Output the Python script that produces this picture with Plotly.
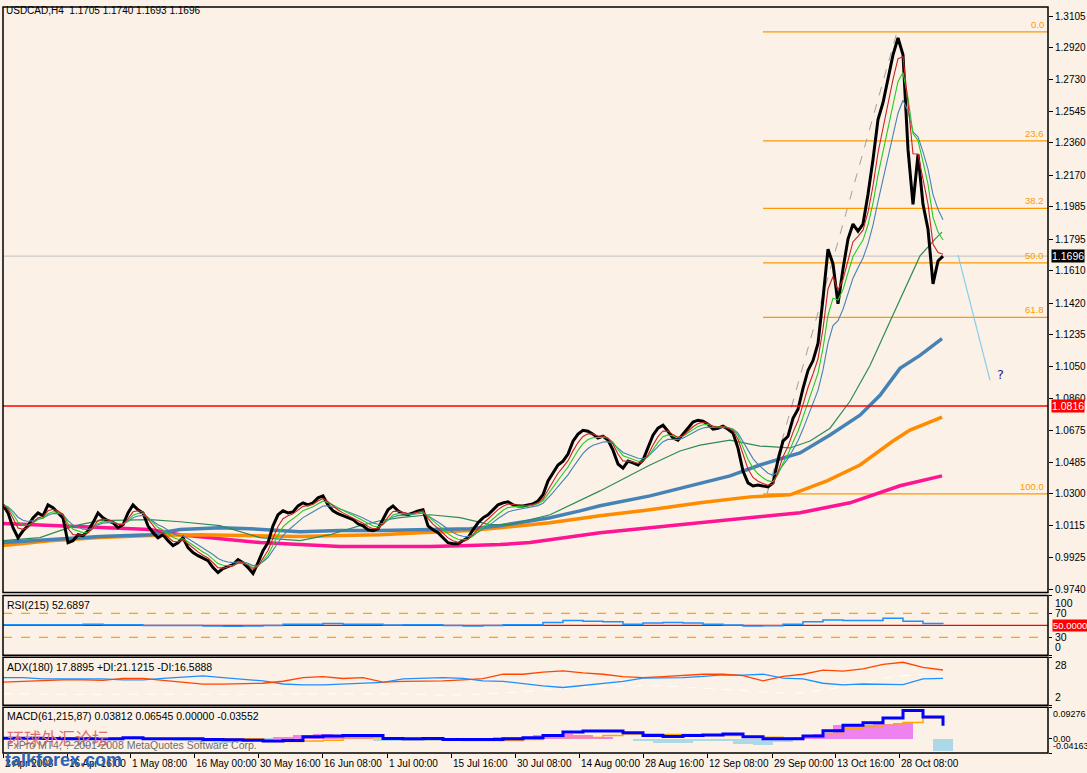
import plotly.graph_objects as go
import pandas as pd

W, H = 1087, 773
BG = "#FBF1E6"

# ---------------- data ----------------
STEP = 5  # bars between close samples
close = [
    1.0236, 1.0189, 1.0102, 1.0043, 1.0084, 1.0113, 1.0160, 1.0189, 1.0172, 1.0236,
    1.0219, 1.0189, 1.0160, 1.0014, 1.0026, 1.0061, 1.0055, 1.0084, 1.0131, 1.0189,
    1.0160, 1.0143, 1.0131, 1.0102, 1.0119, 1.0189, 1.0236, 1.0207, 1.0189, 1.0113,
    1.0073, 1.0043, 1.0061, 1.0026, 0.9997, 1.0014, 1.0043, 0.9985, 0.9956, 0.9938,
    0.9921, 0.9909, 0.9868, 0.9839, 0.9862, 0.9874, 0.9886, 0.9915, 0.9897, 0.9868,
    0.9833, 0.9897, 0.9967, 1.0014, 1.0113, 1.0178, 1.0201, 1.0189, 1.0195, 1.0230,
    1.0248, 1.0236, 1.0248, 1.0277, 1.0289, 1.0236, 1.0201, 1.0184, 1.0172, 1.0160,
    1.0149, 1.0125, 1.0113, 1.0090, 1.0084, 1.0096, 1.0149, 1.0207, 1.0230, 1.0201,
    1.0184, 1.0178, 1.0189, 1.0201, 1.0207, 1.0113, 1.0090, 1.0073, 1.0043, 1.0014,
    1.0008, 1.0008, 1.0026, 1.0043, 1.0090, 1.0131, 1.0160, 1.0178, 1.0207, 1.0236,
    1.0248, 1.0254, 1.0236, 1.0230, 1.0230, 1.0236, 1.0242, 1.0259, 1.0295, 1.0376,
    1.0423, 1.0470, 1.0493, 1.0534, 1.0610, 1.0651, 1.0674, 1.0668, 1.0651, 1.0628,
    1.0639, 1.0616, 1.0557, 1.0476, 1.0452, 1.0493, 1.0482, 1.0470, 1.0499, 1.0569,
    1.0645, 1.0686, 1.0703, 1.0668, 1.0628, 1.0616, 1.0651, 1.0692, 1.0722, 1.0733,
    1.0727, 1.0710, 1.0680, 1.0686, 1.0698, 1.0680, 1.0657, 1.0569, 1.0435, 1.0365,
    1.0347, 1.0353, 1.0347, 1.0341, 1.0365, 1.0499, 1.0610, 1.0639, 1.0744, 1.0797,
    1.0920, 1.1025, 1.1083, 1.1183, 1.1446, 1.1737, 1.1650, 1.1416, 1.1621, 1.1796,
    1.1884, 1.1843, 1.1884, 1.2059, 1.2263, 1.2497, 1.2596, 1.2731, 1.2877, 1.2976,
    1.2877, 1.2322, 1.2000, 1.2293, 1.2000, 1.1854, 1.1533, 1.1667, 1.1696,
]
bars = [i * STEP for i in range(len(close))]

# long moving averages (bar index, price)
ma_mag_bar = [0, 57, 97, 147, 177, 197, 227, 257, 297, 337, 397, 427, 467, 497, 527, 547,
              597, 647, 697, 747, 787, 797, 847, 897, 939]
ma_mag = [1.0126, 1.0114, 1.0102, 1.0091, 1.0061, 1.0050, 1.0032, 1.0015, 1.0003, 0.9991,
          0.9991, 0.9991, 0.9997, 1.0003, 1.0015, 1.0032, 1.0073, 1.0102, 1.0131, 1.0161,
          1.0184, 1.0190, 1.0248, 1.0348, 1.0406]
ma_org_bar = [0, 47, 97, 147, 197, 257, 297, 337, 377, 417, 467, 497, 547, 597, 647, 697,
              747, 787, 797, 824, 857, 890, 907, 939]
ma_org = [0.9997, 1.0026, 1.0044, 1.0056, 1.0061, 1.0056, 1.0050, 1.0056, 1.0061, 1.0073,
          1.0085, 1.0102, 1.0131, 1.0172, 1.0207, 1.0248, 1.0283, 1.0295, 1.0318, 1.0377,
          1.0470, 1.0611, 1.0675, 1.0751]
ma_blu_bar = [0, 47, 97, 147, 177, 217, 247, 297, 337, 377, 427, 467, 497, 547, 577, 597,
              647, 697, 727, 757, 797, 827, 857, 877, 897, 917, 939]
ma_blu = [1.0015, 1.0032, 1.0050, 1.0061, 1.0091, 1.0102, 1.0096, 1.0079, 1.0085, 1.0085,
          1.0091, 1.0096, 1.0114, 1.0161, 1.0201, 1.0231, 1.0289, 1.0365, 1.0406, 1.0470,
          1.0541, 1.0646, 1.0762, 1.0879, 1.1037, 1.1113, 1.1212]
ma_dg_bar = [0, 37, 57, 77, 97, 127, 147, 177, 217, 257, 297, 327, 357, 377, 397, 427, 457,
             487, 507, 547, 597, 647, 677, 697, 727, 757, 787, 807, 827, 847, 867, 887, 902,
             917, 932, 939]
ma_dg = [1.0026, 1.0044, 1.0085, 1.0120, 1.0143, 1.0149, 1.0149, 1.0137, 1.0114, 1.0044,
         1.0026, 1.0061, 1.0114, 1.0143, 1.0161, 1.0178, 1.0161, 1.0120, 1.0120, 1.0178,
         1.0318, 1.0470, 1.0552, 1.0587, 1.0616, 1.0581, 1.0570, 1.0611, 1.0686, 1.0844,
         1.1054, 1.1312, 1.1504, 1.1697, 1.1796, 1.1837]

# fibonacci
fib_high, fib_low = 1.3012, 1.0300
fib_levels = [0.0, 23.6, 38.2, 50.0, 61.8, 100.0]
fib_start_bar, fib_end_bar = 760, 1045
trend_bar = [764, 894]
trend_price = [fib_low, fib_high]
proj_bar = [955, 987]
proj_price = [1.1703, 1.0967]
question_bar, question_price = 997, 1.1002
red_level = 1.0816
last_price = 1.1696

price_ticks = [1.3105, 1.2920, 1.2730, 1.2545, 1.2360, 1.2170, 1.1985, 1.1795, 1.1610,
               1.1420, 1.1235, 1.1050, 1.0860, 1.0675, 1.0485, 1.0300, 1.0115, 0.9925, 0.9740]

# indicators sampled every 20 bars
IND_STEP = 20
rsi = [51, 51, 51, 51, 52, 51, 51, 50, 50, 50, 49, 48.5, 49, 50, 52, 52, 53, 52, 52, 50.5,
       51, 51, 50, 49, 50, 51, 51, 55, 58, 57, 56, 52, 54, 55, 54, 52, 50.5, 49, 49.5, 52,
       56, 59, 58, 58, 62, 57, 53, 52.7]
plus_di = [14.5, 15, 15.5, 15.7, 15.7, 15.5, 16.5, 16.5, 15.5, 14.5, 13.4, 13.4, 13.6, 13.9,
           15, 17, 17.5, 16.5, 17, 14.5, 14.9, 14.9, 15.2, 15.7, 16.4, 18.8, 18.8, 20, 20.6,
           19.5, 18.8, 17.5, 17, 17.5, 18.1, 18.8, 18.8, 18.1, 15.2, 17.6, 18.8, 21, 20.5,
           21.7, 24.2, 25.3, 22.5, 21.1]
minus_di = [17, 17, 16.3, 16.3, 16.3, 16.3, 15.7, 15.7, 16.5, 17, 17.9, 17, 16, 15.2, 13.5,
            13, 13, 13.5, 13.9, 14.4, 16.3, 16.7, 17, 16.5, 15.2, 14.9, 13.5, 12.5, 11.6,
            12.7, 13.5, 14.9, 16.7, 16.7, 17, 17.6, 18.5, 18.3, 18.8, 16.7, 16.3, 13.9, 13,
            13.5, 13.4, 13.2, 16.3, 16.6]
adx = [8.2, 8.0, 7.9, 7.8, 7.8, 7.9, 8.0, 8.1, 8.1, 8.0, 7.9, 7.8, 7.8, 7.9, 8.0, 8.1, 8.2,
       8.2, 8.2, 8.2, 8.2, 7.8, 7.4, 7.6, 8, 8.5, 9.3, 10.3, 11, 11.6, 11.8, 12.3, 12.7, 12.4,
       11.8, 11.2, 10.5, 9.7, 9.1, 8.6, 8.6, 10.3, 12, 13.5, 16.7, 18, 18.5, 17.9]
macd = [0.002, 0.002, 0.001, 0.000, 0.000, 0.000, 0.003, 0.000, 0.000, 0.000, -0.002, -0.003,
        -0.004, -0.006, -0.005, 0.006, 0.008, 0.010, 0.010, 0.001, 0.000, 0.001, -0.002,
        -0.002, -0.002, 0.000, 0.003, 0.010, 0.020, 0.023, 0.023, 0.018, 0.010, 0.007, 0.010,
        0.011, 0.014, 0.006, 0.000, 0.000, 0.008, 0.024, 0.040, 0.047, 0.061, 0.083, 0.064,
        0.038]
signal = [0.002, 0.002, 0.002, 0.002, 0.002, 0.002, 0.001, 0.000, 0.000, 0.000, 0.000, 0.000,
          0.000, -0.008, -0.008, -0.006, -0.004, 0.003, 0.003, 0.003, -0.002, -0.002, -0.002,
          -0.005, -0.005, -0.005, -0.002, 0.004, 0.004, 0.004, 0.010, 0.014, 0.014, 0.013,
          0.013, 0.010, 0.010, 0.005, 0.005, 0.002, 0.005, 0.016, 0.030, 0.035, 0.040, 0.048,
          0.062, 0.065]
hist = [0.005, 0.005, 0.004, 0.003, 0.002, 0.000, 0.000, 0.000, -0.002, -0.008, -0.010,
        -0.012, -0.010, -0.004, 0.006, 0.012, 0.013, 0.010, 0.004, -0.006, -0.006, -0.006,
        -0.007, -0.007, -0.006, 0.002, 0.004, 0.010, 0.014, 0.012, 0.006, 0.000, -0.008,
        -0.012, -0.012, -0.008, -0.008, -0.016, -0.018, -0.010, 0.006, 0.015, 0.040, 0.039,
        0.042, 0.046, 0.000, -0.036]
ind_bars = [i * IND_STEP for i in range(len(rsi))]

x_tick_bars = [0, 64, 127, 191, 255, 319, 384, 448, 512, 576, 640, 704, 769, 832, 896]
x_tick_text = ["2 Apr 2008", "16 Apr 16:00", "1 May 08:00", "16 May 00:00", "30 May 16:00",
               "16 Jun 08:00", "1 Jul 00:00", "15 Jul 16:00", "30 Jul 08:00", "14 Aug 00:00",
               "28 Aug 16:00", "12 Sep 08:00", "29 Sep 00:00", "13 Oct 16:00", "28 Oct 08:00"]

title_text = "USDCAD,H4  1.1705 1.1740 1.1693 1.1696"
rsi_title = "RSI(215) 52.6897"
adx_title = "ADX(180) 17.8895 +DI:21.1215 -DI:16.5888"
macd_title = "MACD(61,215,87) 0.03812 0.06545 0.00000 -0.03552"

# ---------------- layout helpers ----------------
def px(x):
    return x / W

def py(y):
    return 1 - y / H

L, R = 3, 1048
panels = {"main": (7, 594), "rsi": (597, 657), "adx": (659, 707), "macd": (709, 755)}

FONT = "Liberation Sans"
fig = go.Figure()

s = pd.Series(close)
ema_red = s.ewm(span=3, adjust=False).mean()
ema_grn = s.ewm(span=5, adjust=False).mean()
ema_blu = s.ewm(span=8, adjust=False).mean()

# thick long MAs
fig.add_trace(go.Scatter(x=ma_mag_bar, y=ma_mag, mode="lines",
                         line=dict(color="#FF1493", width=3.5), yaxis="y"))
fig.add_trace(go.Scatter(x=ma_org_bar, y=ma_org, mode="lines",
                         line=dict(color="#FF8C00", width=3.5), yaxis="y"))
fig.add_trace(go.Scatter(x=ma_blu_bar, y=ma_blu, mode="lines",
                         line=dict(color="#4682B4", width=3.5), yaxis="y"))
fig.add_trace(go.Scatter(x=ma_dg_bar, y=ma_dg, mode="lines",
                         line=dict(color="#2E8B57", width=1.2), yaxis="y"))
# fib trend line
fig.add_trace(go.Scatter(x=trend_bar, y=trend_price, mode="lines",
                         line=dict(color="#A0A0A0", width=1, dash="dash"), yaxis="y"))
# price
fig.add_trace(go.Scatter(x=bars, y=close, mode="lines",
                         line=dict(color="black", width=3), yaxis="y"))
fig.add_trace(go.Scatter(x=bars, y=ema_blu, mode="lines",
                         line=dict(color="#4682B4", width=1.1), yaxis="y"))
fig.add_trace(go.Scatter(x=bars, y=ema_grn, mode="lines",
                         line=dict(color="#22CC22", width=1.1), yaxis="y"))
fig.add_trace(go.Scatter(x=bars, y=ema_red, mode="lines",
                         line=dict(color="#CC2222", width=1.1), yaxis="y"))
# projection
fig.add_trace(go.Scatter(x=proj_bar, y=proj_price, mode="lines",
                         line=dict(color="#87CEEB", width=1.2), yaxis="y"))

# RSI
fig.add_trace(go.Scatter(x=ind_bars, y=rsi, mode="lines", line_shape="hv",
                         line=dict(color="#1E90FF", width=1.5), yaxis="y2"))
# ADX
fig.add_trace(go.Scatter(x=ind_bars, y=adx, mode="lines",
                         line=dict(color="white", width=1, dash="dash"), yaxis="y3"))
fig.add_trace(go.Scatter(x=ind_bars, y=minus_di, mode="lines",
                         line=dict(color="#1E90FF", width=1.3), yaxis="y3"))
fig.add_trace(go.Scatter(x=ind_bars, y=plus_di, mode="lines",
                         line=dict(color="#FF4500", width=1.3), yaxis="y3"))
# MACD
hist_colors = ["#EE82EE" if v >= 0 else "#ADD8E6" for v in hist]
fig.add_trace(go.Bar(x=ind_bars, y=hist, marker=dict(color=hist_colors, line=dict(width=0)),
                     width=IND_STEP, yaxis="y4"))
fig.add_trace(go.Scatter(x=ind_bars, y=signal, mode="lines", line_shape="hv",
                         line=dict(color="#FFA500", width=1.5), yaxis="y4"))
fig.add_trace(go.Scatter(x=ind_bars, y=macd, mode="lines", line_shape="hv",
                         line=dict(color="#0000FF", width=3), yaxis="y4"))

shapes = []
# fib lines
for lv in fib_levels:
    p = fib_high - lv / 100 * (fib_high - fib_low)
    shapes.append(dict(type="line", xref="x", yref="y", x0=fib_start_bar, x1=fib_end_bar,
                       y0=p, y1=p, line=dict(color="#FF9900", width=1.3), layer="below"))
# horizontal lines
shapes.append(dict(type="line", xref="paper", yref="y", x0=px(L), x1=px(R), y0=last_price,
                   y1=last_price, line=dict(color="#C0C0C0", width=1), layer="below"))
shapes.append(dict(type="line", xref="paper", yref="y", x0=px(L), x1=px(R), y0=red_level,
                   y1=red_level, line=dict(color="rgb(255,0,0)", width=1.5), layer="above"))
# RSI levels
for lv, col, dash in [(70, "#FFA500", "dash"), (30, "#FFA500", "dash"), (50, "#FF0000", "solid")]:
    shapes.append(dict(type="line", xref="paper", yref="y2", x0=px(L), x1=px(R), y0=lv, y1=lv,
                       line=dict(color=col, width=1.2, dash=dash), layer="below"))
# panel borders
for name, (t, b) in panels.items():
    shapes.append(dict(type="rect", xref="paper", yref="paper", x0=px(L), x1=px(R),
                       y0=py(b), y1=py(t), line=dict(color="black", width=1.5)))

ann = []
def text(x, y, s_, size=10, color="black", xanchor="left", yanchor="middle", **kw):
    ann.append(dict(x=x, y=y, xref=kw.pop("xref", "paper"), yref=kw.pop("yref", "paper"),
                    text=s_, showarrow=False, xanchor=xanchor, yanchor=yanchor,
                    font=dict(family=kw.pop("family", FONT), size=size, color=color), **kw))

text(px(4), py(11), title_text, size=10)
text(px(5), py(607), rsi_title, size=10.5)
text(px(5), py(669), adx_title, size=10.5)
text(px(5), py(718), macd_title, size=10.5)

# fib labels
for lv in fib_levels:
    p = fib_high - lv / 100 * (fib_high - fib_low)
    text(fib_end_bar - 2, p, f"{lv:.1f}", size=9.5, color="#FF9900", xanchor="right",
         yanchor="bottom", xref="x", yref="y")

text(question_bar, question_price, "?", size=13, color="#1F1F8F", xanchor="center",
     xref="x", yref="y", family="DejaVu Sans")

# price boxes
text(px(1051), last_price, f"{last_price:.4f}", size=10.5, color="white", xref="paper", yref="y",
     bgcolor="black", borderpad=0)
text(px(1051), red_level, f"{red_level:.4f}", size=10.5, color="white", xref="paper", yref="y",
     bgcolor="#FF0000", borderpad=0)
text(px(1052), 50, "50.0000", size=9.5, color="white", xref="paper", yref="y2",
     bgcolor="#FF0000", borderpad=0)

# subwindow scale labels
for v, lab, ya in [(100, "100", "top"), (70, "70", "middle"), (30, "30", "middle"), (0, "0", "bottom")]:
    text(px(1053), v, lab, size=10.5, xref="paper", yref="y2", yanchor=ya)
for v, lab, ya in [(28, "28", "top"), (2, "2", "bottom")]:
    text(px(1053), v, lab, size=10.5, xref="paper", yref="y3", yanchor=ya)
for v, lab, ya in [(0.09276, "0.09276", "top"), (0.0, "0.00", "middle"), (-0.04163, "-0.04163", "bottom")]:
    text(px(1051), v, lab, size=9, xref="paper", yref="y4", yanchor=ya)

# x labels
for b, lab in zip(x_tick_bars, x_tick_text):
    text(b, py(765), lab, size=10, xref="x", yref="paper")

# watermark / copyright
text(px(5), py(739), "环球外汇论坛", size=17, color="#E07070", family="Noto Sans CJK SC")
text(px(5), py(747), "FxPro MT4, ? 2001-2008 MetaQuotes Software Corp.", size=10.5, color="#6E6E6E")
text(px(3), py(762), "<b>talkforex.com</b>", size=18, color="#2C63B5", family="Liberation Sans")

fig.update_layout(
    width=W, height=H, margin=dict(l=0, r=0, t=0, b=0),
    paper_bgcolor=BG, plot_bgcolor=BG, showlegend=False, bargap=0,
    shapes=shapes, annotations=ann,
    xaxis=dict(domain=[px(L), px(R)], range=[0, R - L], anchor="y4", showgrid=False,
               zeroline=False, showline=False, tickvals=x_tick_bars, showticklabels=False,
               ticks="outside", ticklen=4, tickcolor="black"),
    yaxis=dict(domain=[py(594), py(7)], range=[0.9722, 1.3158], side="right", anchor="x",
               showgrid=False, zeroline=False, tickvals=price_ticks,
               ticktext=[f"{v:.4f}" for v in price_ticks], ticks="outside", ticklen=4,
               tickcolor="black", tickfont=dict(family=FONT, size=10, color="black")),
    yaxis2=dict(domain=[py(657), py(597)], range=[0, 100], side="right", anchor="x",
                showgrid=False, zeroline=False, showticklabels=False, tickvals=[100, 70, 30, 0],
                ticks="outside", ticklen=3, tickcolor="black"),
    yaxis3=dict(domain=[py(707), py(659)], range=[2, 28], side="right", anchor="x",
                showgrid=False, zeroline=False, showticklabels=False, tickvals=[28, 2],
                ticks="outside", ticklen=3, tickcolor="black"),
    yaxis4=dict(domain=[py(755), py(709)], range=[-0.04163, 0.09276], side="right", anchor="x",
                showgrid=False, zeroline=False, showticklabels=False,
                tickvals=[0.09276, 0.0, -0.04163], ticks="outside", ticklen=3, tickcolor="black"),
)

fig.write_html("out.html", config={"displayModeBar": False},
               post_script="document.body.style.margin='0';document.body.style.background='%s';" % BG)
